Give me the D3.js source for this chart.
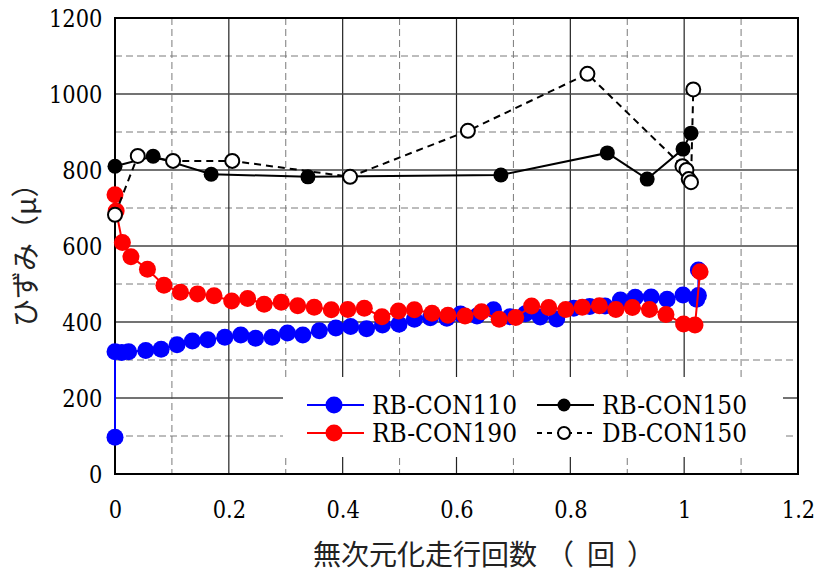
<!DOCTYPE html>
<html>
<head>
<meta charset="utf-8">
<script src="https://cdn.jsdelivr.net/npm/d3@7"></script>
<style>
  html, body { margin: 0; padding: 0; background: #fff; }
  svg { display: block; }
</style>
</head>
<body>
<svg id="chart" width="820" height="579"></svg>
<script>
// ---- data (x = 無次元化走行回数, y = ひずみ μ) ----
const rbCon110X = [0, 0, 0.012, 0.024, 0.054, 0.081, 0.109, 0.136, 0.163, 0.193, 0.221, 0.247, 0.276, 0.303, 0.330, 0.359, 0.388, 0.414, 0.442, 0.470, 0.499, 0.526, 0.554, 0.583, 0.607, 0.636, 0.665, 0.694, 0.721, 0.747, 0.776, 0.806, 0.834, 0.861, 0.888, 0.914, 0.942, 0.970, 0.998, 1.022, 1.025, 1.025];
const rbCon110Y = [97, 322, 320, 322, 325, 328, 340, 350, 353, 360, 366, 357, 360, 371, 366, 377, 384, 388, 382, 392, 394, 407, 411, 410, 421, 416, 432, 414, 422, 413, 408, 436, 441, 442, 458, 465, 466, 460, 471, 460, 470, 537];

const rbCon150X = [0, 0.067, 0.169, 0.339, 0.678, 0.865, 0.935, 0.998, 1.012];
const rbCon150Y = [810, 836, 789, 782, 787, 845, 776, 855, 897];

const rbCon190X = [0, 0.002, 0.013, 0.028, 0.057, 0.086, 0.115, 0.145, 0.174, 0.205, 0.233, 0.262, 0.292, 0.321, 0.350, 0.380, 0.409, 0.438, 0.469, 0.498, 0.526, 0.557, 0.585, 0.615, 0.644, 0.675, 0.704, 0.732, 0.762, 0.792, 0.821, 0.851, 0.880, 0.909, 0.939, 0.968, 0.999, 1.019, 1.028];
const rbCon190Y = [735, 692, 609, 572, 539, 497, 478, 474, 469, 455, 462, 447, 452, 443, 439, 432, 433, 436, 414, 429, 432, 423, 418, 416, 427, 407, 412, 442, 438, 433, 439, 443, 433, 438, 433, 420, 395, 392, 532];

const dbCon150X = [0, 0.040, 0.102, 0.206, 0.413, 0.620, 0.830, 0.997, 1.004, 1.008, 1.012, 1.016];
const dbCon150Y = [682, 837, 824, 824, 782, 903, 1053, 810, 800, 776, 768, 1012];

const xTicks = [0, 0.2, 0.4, 0.6, 0.8, 1, 1.2];
const xTickLabels = ["0", "0.2", "0.4", "0.6", "0.8", "1", "1.2"];
const yTicks = [0, 200, 400, 600, 800, 1000, 1200];
const xMinorTicks = [0.1, 0.3, 0.5, 0.7, 0.9, 1.1];
const yMinorTicks = [100, 300, 500, 700, 900, 1100];

const seriesNames = ["RB-CON110", "RB-CON190", "RB-CON150", "DB-CON150"];
const xLabelParts = ["無次元化走行回数", "（", "回", "）"];
const yLabel = "ひずみ（μ）";

// ---- layout ----
const svg = d3.select("#chart");
const L = 115, R = 798, T = 18, B = 474;
const x = d3.scaleLinear().domain([0, 1.2]).range([L, R]);
const y = d3.scaleLinear().domain([0, 1200]).range([B, T]);
const SERIF = "DejaVu Serif";
const CJK = "Noto Sans CJK JP";

const zip = (xs, ys) => xs.map((v, i) => ({x: v, y: ys[i]}));
const s110 = zip(rbCon110X, rbCon110Y);
const s150 = zip(rbCon150X, rbCon150Y);
const s190 = zip(rbCon190X, rbCon190Y);
const sdb = zip(dbCon150X, dbCon150Y);

// grid
const grid = svg.append("g");
grid.selectAll(".vmin").data(xMinorTicks).join("line")
  .attr("x1", d => x(d)).attr("x2", d => x(d)).attr("y1", T).attr("y2", B)
  .attr("stroke", "#7a7a7a").attr("stroke-width", 1).attr("stroke-dasharray", "7,4");
grid.selectAll(".hmin").data(yMinorTicks).join("line")
  .attr("y1", d => y(d)).attr("y2", d => y(d)).attr("x1", L).attr("x2", R)
  .attr("stroke", "#7a7a7a").attr("stroke-width", 1).attr("stroke-dasharray", "7,4");
grid.selectAll(".vmaj").data(xTicks.slice(1, -1)).join("line")
  .attr("x1", d => x(d)).attr("x2", d => x(d)).attr("y1", T).attr("y2", B)
  .attr("stroke", "#222").attr("stroke-width", 1.2);
grid.selectAll(".hmaj").data(yTicks.slice(1, -1)).join("line")
  .attr("y1", d => y(d)).attr("y2", d => y(d)).attr("x1", L).attr("x2", R)
  .attr("stroke", "#444").attr("stroke-width", 1.4);

// frame
svg.append("rect").attr("x", L).attr("y", T).attr("width", R - L).attr("height", B - T)
  .attr("fill", "none").attr("stroke", "#000").attr("stroke-width", 2);

// legend background (drawn under data)
svg.append("rect").attr("x", 283).attr("y", 377).attr("width", 500).attr("height", 80).attr("fill", "#fff");

// axes labels (serif, condensed to Times-like proportions)
const xAxis = d3.axisBottom(x).tickValues(xTicks).tickFormat((d, i) => xTickLabels[i]).tickSize(0).tickPadding(26);
const gx = svg.append("g").attr("transform", `translate(0,${B})`).call(xAxis)
  .attr("font-family", SERIF).attr("font-size", 25);
gx.select(".domain").remove();
gx.selectAll("text").attr("fill", "#000").attr("transform", "scale(0.84,1)");

const yAxis = d3.axisLeft(y).tickValues(yTicks).tickFormat(d3.format("d")).tickSize(0).tickPadding(15);
const gy = svg.append("g").attr("transform", `translate(${L},0)`).call(yAxis)
  .attr("font-family", SERIF).attr("font-size", 25);
gy.select(".domain").remove();
gy.selectAll("text").attr("fill", "#000").attr("transform", "scale(0.84,1)");

// x title
const xt = svg.append("text").attr("font-family", CJK).attr("x", 313).attr("y", 565)
  .attr("font-size", 28).attr("fill", "#222");
xt.append("tspan").text(xLabelParts[0]);
xt.append("tspan").attr("dx", 9).text(xLabelParts[1]);
xt.append("tspan").attr("dx", 13).text(xLabelParts[2]);
xt.append("tspan").attr("dx", 12).text(xLabelParts[3]);

// y title
svg.append("text").attr("font-family", CJK).attr("transform", "translate(36,327) rotate(-90)")
  .attr("text-anchor", "start").attr("font-size", 28).attr("fill", "#222").text(yLabel);

// series
const line = d3.line().x(d => x(d.x)).y(d => y(d.y));
function drawSeries(data, opt) {
  const g = svg.append("g");
  g.append("path").datum(data).attr("d", line).attr("fill", "none")
    .attr("stroke", opt.stroke).attr("stroke-width", opt.lw)
    .attr("stroke-dasharray", opt.dash || null);
  g.selectAll("circle").data(data).join("circle")
    .attr("cx", d => x(d.x)).attr("cy", d => y(d.y)).attr("r", opt.r)
    .attr("fill", opt.fill).attr("stroke", opt.mstroke || "none").attr("stroke-width", opt.msw || 0);
}
const styles = {
  "RB-CON110": {stroke: "#0000ff", lw: 2, fill: "#0000ff", r: 8.5},
  "RB-CON150": {stroke: "#000", lw: 2, fill: "#000", r: 7.5},
  "RB-CON190": {stroke: "#ff0000", lw: 2, fill: "#ff0000", r: 8.5},
  "DB-CON150": {stroke: "#000", lw: 2, dash: "7,5", fill: "#fff", r: 7, mstroke: "#000", msw: 2}
};
drawSeries(s110, styles["RB-CON110"]);
drawSeries(s150, styles["RB-CON150"]);
drawSeries(s190, styles["RB-CON190"]);
drawSeries(sdb, styles["DB-CON150"]);

// legend
const legendPos = [
  {name: "RB-CON110", lx: 307, cy: 405, lr: 8.5},
  {name: "RB-CON190", lx: 307, cy: 433, lr: 8.5},
  {name: "RB-CON150", lx: 537, cy: 405, lr: 6.5},
  {name: "DB-CON150", lx: 537, cy: 433, lr: 6}
];
legendPos.forEach(p => {
  const st = styles[p.name];
  const g = svg.append("g");
  g.append("line").attr("x1", p.lx).attr("x2", p.lx + 57).attr("y1", p.cy).attr("y2", p.cy)
    .attr("stroke", st.stroke).attr("stroke-width", st.lw).attr("stroke-dasharray", st.dash ? "5,5" : null);
  g.append("circle").attr("cx", p.lx + 27).attr("cy", p.cy).attr("r", p.lr)
    .attr("fill", st.fill).attr("stroke", st.mstroke || "none").attr("stroke-width", st.msw || 0);
  g.append("text").attr("font-family", SERIF).attr("x", p.lx + 65).attr("y", p.cy).attr("dy", "0.36em")
    .attr("font-size", 26).attr("textLength", 145).attr("lengthAdjust", "spacingAndGlyphs")
    .attr("fill", "#000").text(p.name);
});
</script>
</body>
</html>
